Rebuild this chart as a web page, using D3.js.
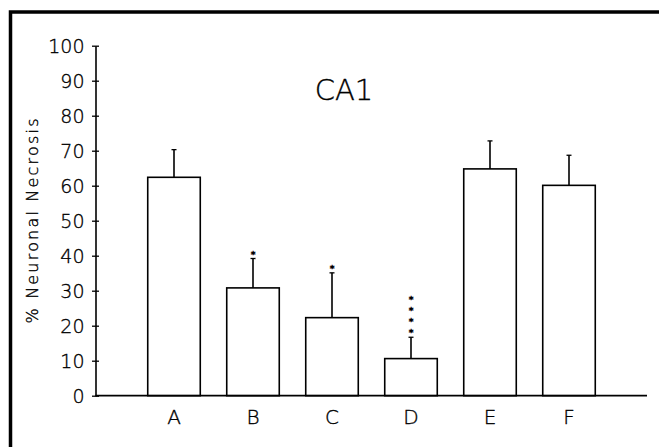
<!DOCTYPE html>
<html>
<head>
<meta charset="utf-8">
<script src="https://cdn.jsdelivr.net/npm/d3@7"></script>
<style>
  body { margin: 0; background: #fff; }
  svg text { font-family: "DejaVu Sans", sans-serif; font-weight: 200; fill: #000; stroke: #000; stroke-width: 0.35px; }
</style>
</head>
<body>
<script>
// groups and values
let groups = ["A", "B", "C", "D", "E", "F"];
let necrosis = [62.4, 30.8, 22.3, 10.6, 64.8, 60.1];
let sem = [7.9, 8.4, 12.8, 6.1, 8.0, 8.6];
let stars = [0, 1, 1, 4, 0, 0];
let yTicks = [0, 10, 20, 30, 40, 50, 60, 70, 80, 90, 100];

var w = 659;
var h = 447;

var svg = d3.select("body")
    .append("svg")
    .attr("width", w)
    .attr("height", h);

// frame of the figure panel (runs off the page right and bottom)
svg.append("path")
    .attr("d", "M10.5," + h + "V12H" + w)
    .attr("fill", "none")
    .attr("stroke", "#000")
    .attr("stroke-width", 3.5);

var y = d3.scaleLinear()
    .domain([0, 100])
    .range([395.7, 45.7]);

var x = d3.scaleBand()
    .domain(groups)
    .range([134.5, 608.5])
    .paddingInner(0.335)
    .paddingOuter(0.1675);

var axisX0 = 95.5;
var axisX1 = 647;

// y axis
var yAxis = svg.append("g")
    .attr("transform", "translate(" + axisX0 + ",0)")
    .call(d3.axisLeft(y).tickValues(yTicks).tickSize(0).tickPadding(11).tickSizeOuter(0));

yAxis.select(".domain").attr("stroke", "#000").attr("stroke-width", 1.6);
yAxis.selectAll(".tick line").remove();
yAxis.selectAll(".tick")
    .append("line")
    .attr("x1", -3.5)
    .attr("x2", 3.5)
    .attr("stroke", "#000")
    .attr("stroke-width", 1.3);
yAxis.selectAll(".tick text")
    .style("font-size", "19px")
    .attr("dy", "0.36em");

// bars
svg.selectAll(".bar")
    .data(groups)
    .enter()
    .append("rect")
    .attr("class", "bar")
    .attr("x", function (d) { return x(d); })
    .attr("y", function (d, i) { return y(necrosis[i]); })
    .attr("width", x.bandwidth())
    .attr("height", function (d, i) { return y(0) - y(necrosis[i]); })
    .attr("fill", "#fff")
    .attr("stroke", "#000")
    .attr("stroke-width", 1.6);

// error bars (upper only)
svg.selectAll(".err")
    .data(groups)
    .enter()
    .append("line")
    .attr("class", "err")
    .attr("x1", function (d) { return x(d) + x.bandwidth() / 2; })
    .attr("x2", function (d) { return x(d) + x.bandwidth() / 2; })
    .attr("y1", function (d, i) { return y(necrosis[i]); })
    .attr("y2", function (d, i) { return y(necrosis[i] + sem[i]); })
    .attr("stroke", "#000")
    .attr("stroke-width", 1.6);

svg.selectAll(".cap")
    .data(groups)
    .enter()
    .append("line")
    .attr("class", "cap")
    .attr("x1", function (d) { return x(d) + x.bandwidth() / 2 - 2.5; })
    .attr("x2", function (d) { return x(d) + x.bandwidth() / 2 + 2.5; })
    .attr("y1", function (d, i) { return y(necrosis[i] + sem[i]); })
    .attr("y2", function (d, i) { return y(necrosis[i] + sem[i]); })
    .attr("stroke", "#000")
    .attr("stroke-width", 1.3);

// significance asterisks, stacked above the caps
var starData = [];
groups.forEach(function (g, i) {
    for (var k = 0; k < stars[i]; k++) {
        starData.push({ g: g, top: necrosis[i] + sem[i], k: k });
    }
});

svg.selectAll(".star")
    .data(starData)
    .enter()
    .append("text")
    .attr("class", "star")
    .attr("x", function (d) { return x(d.g) + x.bandwidth() / 2; })
    .attr("y", function (d) { return y(d.top) - 1 - d.k * 11; })
    .attr("text-anchor", "middle")
    .style("font-size", "9.5px")
    .style("font-weight", "normal")
    .style("stroke-width", "0.5px")
    .text("*");

// x axis baseline
svg.append("line")
    .attr("x1", axisX0)
    .attr("x2", axisX1)
    .attr("y1", y(0))
    .attr("y2", y(0))
    .attr("stroke", "#000")
    .attr("stroke-width", 1.8);

var xAxis = svg.append("g")
    .attr("transform", "translate(0," + y(0) + ")")
    .call(d3.axisBottom(x).tickSize(0).tickPadding(14));
xAxis.select(".domain").remove();
xAxis.selectAll(".tick text")
    .style("font-size", "20px");

// title inside plot
svg.append("text")
    .attr("x", 344)
    .attr("y", 100)
    .attr("text-anchor", "middle")
    .style("font-size", "29px")
    .text("CA1");

// y label
svg.append("text")
    .attr("transform", "translate(38,221)rotate(-90)")
    .attr("text-anchor", "middle")
    .style("font-size", "16px")
    .attr("textLength", 205)
    .text("% Neuronal Necrosis");
</script>
</body>
</html>
